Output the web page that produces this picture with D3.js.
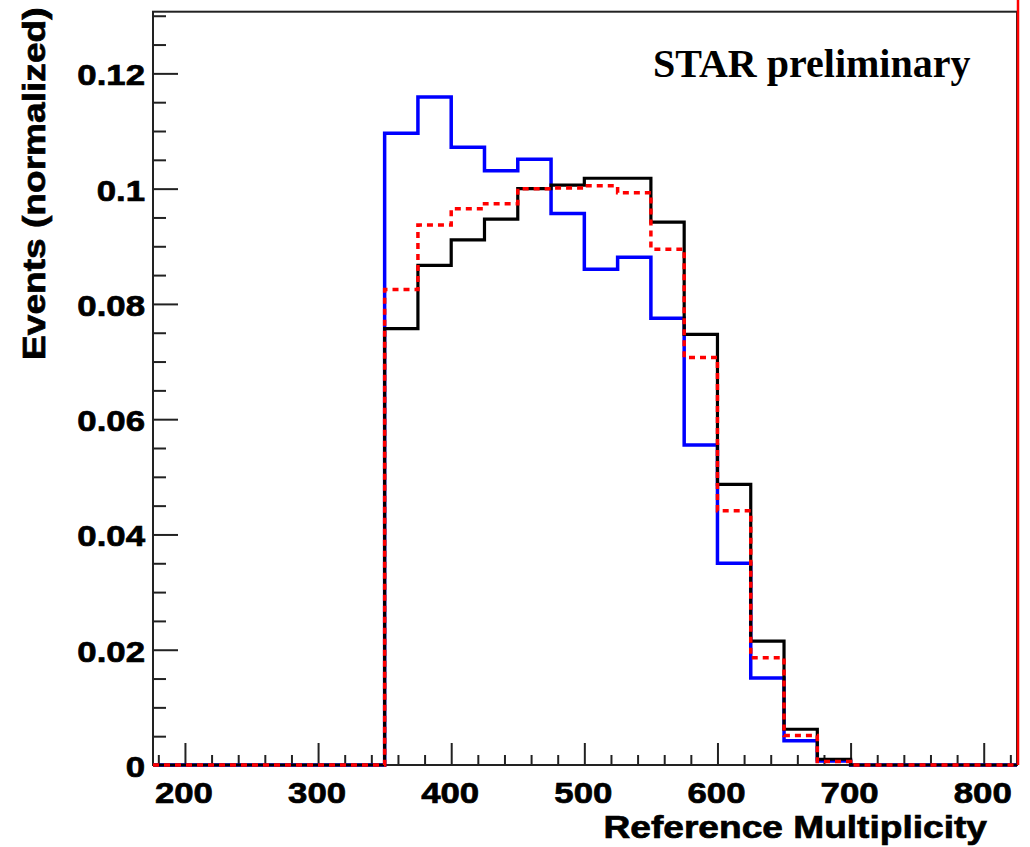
<!DOCTYPE html>
<meta charset="utf-8">
<script src="https://d3js.org/d3.v7.min.js"></script>
<style>
  body { margin: 0; background: #fff; }
  text { font-family: "Liberation Sans", Arial, sans-serif; font-weight: bold; fill: #000; }
  .heavy { stroke: #000; stroke-width: 0.7px; }
</style>
<div id="chart"></div>
<script>

// bin low edges (width 25)
var binEdges = [350, 375, 400, 425, 450, 475, 500, 525, 550, 575, 600, 625, 650, 675, 700];

// normalized event fractions per bin
var blueVals  = [0.1096, 0.1159, 0.1072, 0.1031, 0.1051, 0.0957, 0.0860, 0.0881, 0.0775, 0.0555, 0.0350, 0.0151, 0.0042, 0.0007];
var blackVals = [0.0757, 0.0867, 0.0911, 0.0947, 0.1000, 0.1006, 0.1018, 0.1018, 0.0942, 0.0747, 0.0487, 0.0215, 0.0062, 0.0010];
var redVals   = [0.0825, 0.0937, 0.0965, 0.0974, 0.1000, 0.1001, 0.1005, 0.0993, 0.0895, 0.0707, 0.0441, 0.0186, 0.0051, 0.0006];

var xTicks = [200, 300, 400, 500, 600, 700, 800];
var xTickLabels = ["200", "300", "400", "500", "600", "700", "800"];
var yTicks = [0, 0.02, 0.04, 0.06, 0.08, 0.1, 0.12];
var yTickLabels = ["0", "0.02", "0.04", "0.06", "0.08", "0.1", "0.12"];

var W = 1030, H = 847;
var stretch = 1.16; // fonts in the picture are wider than normal

var svg = d3.select("#chart").append("svg")
  .attr("width", W)
  .attr("height", H);

var x = d3.scaleLinear().domain([176, 825]).range([153, 1017]);
var y = d3.scaleLinear().domain([0, 0.1307]).range([765, 11.7]);

// frame
svg.append("rect")
  .attr("x", x(176)).attr("y", y(0.1307))
  .attr("width", x(825) - x(176)).attr("height", y(0) - y(0.1307))
  .style("fill", "none").style("stroke", "#222").style("stroke-width", 2);

// axes (ticks point inwards, like ROOT)
var xMinor = d3.range(180, 821, 20).filter(function(d) { return xTicks.indexOf(d) < 0; });
svg.append("g")
  .attr("transform", "translate(0," + y(0) + ")")
  .call(d3.axisBottom(x).tickValues(xMinor).tickSize(-10).tickFormat(""))
  .call(function(g) { g.select(".domain").remove(); });
svg.append("g")
  .attr("transform", "translate(0," + y(0) + ")")
  .call(d3.axisBottom(x).tickValues(xTicks).tickSize(-22).tickFormat(""))
  .call(function(g) { g.select(".domain").remove(); });

var yMinor = d3.range(0.005, 0.131, 0.005).filter(function(d) { return Math.abs(d * 50 - Math.round(d * 50)) > 1e-6; });
svg.append("g")
  .attr("transform", "translate(" + x(176) + ",0)")
  .call(d3.axisLeft(y).tickValues(yMinor).tickSize(-13).tickFormat(""))
  .call(function(g) { g.select(".domain").remove(); });
svg.append("g")
  .attr("transform", "translate(" + x(176) + ",0)")
  .call(d3.axisLeft(y).tickValues(yTicks).tickSize(-25).tickFormat(""))
  .call(function(g) { g.select(".domain").remove(); });

svg.selectAll(".tick line").style("stroke", "#222").style("stroke-width", 2);

// tick labels
svg.selectAll(".xlab")
  .data(xTicks)
  .enter().append("text")
    .attr("class", "xlab heavy")
    .attr("transform", function(d) { return "translate(" + (x(d) - 1) + ",803) scale(" + stretch + ",1)"; })
    .style("text-anchor", "middle")
    .style("font-size", "30px")
    .text(function(d, i) { return xTickLabels[i]; });

svg.selectAll(".ylab")
  .data(yTicks)
  .enter().append("text")
    .attr("class", "ylab heavy")
    .attr("transform", function(d) { return "translate(145," + (y(d) + 12) + ") scale(" + stretch + ",1)"; })
    .style("text-anchor", "end")
    .style("font-size", "30px")
    .text(function(d, i) { return yTickLabels[i]; });

// histogram outlines
function outline(vals) {
  var pts = [[176, 0], [binEdges[0], 0]];
  vals.forEach(function(v, i) {
    pts.push([binEdges[i], v]);
    pts.push([binEdges[i + 1], v]);
  });
  pts.push([binEdges[binEdges.length - 1], 0]);
  pts.push([825, 0]);
  return d3.line().x(function(p) { return x(p[0]); }).y(function(p) { return y(p[1]); })(pts);
}

svg.append("path")
  .attr("d", outline(blueVals))
  .style("fill", "none").style("stroke", "#0000ff").style("stroke-width", 3.5);
svg.append("path")
  .attr("d", outline(blackVals))
  .style("fill", "none").style("stroke", "#000").style("stroke-width", 3.2);
svg.append("path")
  .attr("d", outline(redVals))
  .style("fill", "none").style("stroke", "#ff0000").style("stroke-width", 3.5)
  .style("stroke-dasharray", "6,5");

// right pad edge in red
svg.append("line")
  .attr("x1", x(825) + 1).attr("x2", x(825) + 1)
  .attr("y1", 0).attr("y2", y(0))
  .style("stroke", "#ff0000").style("stroke-width", 2.5);

// titles
svg.append("text")
  .attr("class", "heavy")
  .attr("transform", "translate(987,838) scale(" + stretch + ",1)")
  .style("text-anchor", "end")
  .style("font-size", "32px")
  .text("Reference Multiplicity");

svg.append("text")
  .attr("class", "heavy")
  .attr("transform", "translate(45,360) rotate(-90) scale(" + stretch + ",1)")
  .style("text-anchor", "start")
  .style("font-size", "32px")
  .text("Events (normalized)");

svg.append("text")
  .attr("x", 653).attr("y", 77)
  .style("font-family", "'Liberation Serif', 'Times New Roman', serif")
  .style("font-size", "40px")
  .text("STAR preliminary");

</script>
